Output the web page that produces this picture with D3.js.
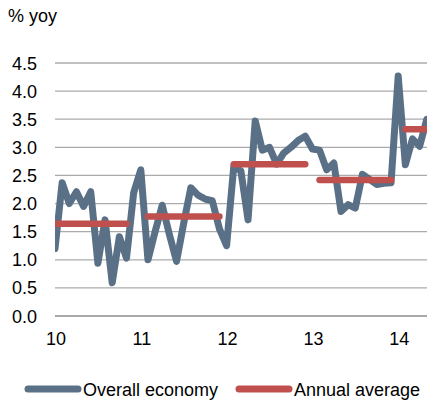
<!DOCTYPE html>
<html>
<head>
<meta charset="utf-8">
<script src="https://cdn.jsdelivr.net/npm/d3@7"></script>
<style>
  body { margin: 0; background: #fff; }
  svg { display: block; font-family: "Liberation Sans", Arial, sans-serif; }
</style>
</head>
<body>
<div id="chart"></div>
<script>
// monthly % yoy, Jan 2010 onwards
const overall = [1.2, 2.37, 2.0, 2.21, 1.95, 2.21, 0.94, 1.71, 0.59, 1.41, 1.03, 2.19,
  2.6, 1.0, 1.5, 1.97, 1.45, 0.97, 1.65, 2.28, 2.15, 2.08, 2.05, 1.55,
  1.25, 2.66, 2.58, 1.71, 3.47, 2.95, 3.0, 2.7, 2.9, 3.0, 3.12, 3.2,
  2.97, 2.95, 2.6, 2.72, 1.86, 1.98, 1.92, 2.52, 2.43, 2.34, 2.36, 2.37,
  4.27, 2.69, 3.15, 3.02, 3.5];
// annual averages with first / last month index of each segment
const avgValues = [1.64, 1.77, 2.70, 2.42, 3.32];
const avgStart = [0, 13, 25, 37, 49];
const avgEnd = [10, 23, 35, 47, 54];
const yearLabels = ["10", "11", "12", "13", "14"];
const yTicks = [0, 0.5, 1, 1.5, 2, 2.5, 3, 3.5, 4, 4.5];

const width = 427, height = 401;
const blue = "#5a7087", red = "#c0504d";

const svg = d3.select("#chart").append("svg")
    .attr("width", width)
    .attr("height", height);

const x = d3.scaleLinear().domain([0, 52]).range([55, 55 + 52 * 7.15]);
const y = d3.scaleLinear().domain([0, 4.5]).range([316, 63]);

svg.append("defs").append("clipPath").attr("id", "plot")
    .append("rect").attr("x", 55).attr("y", 40).attr("width", width - 55).attr("height", 290);

// title
svg.append("text")
    .attr("x", 8).attr("y", 22)
    .attr("font-size", 18).attr("fill", "#000")
    .text("% yoy");

// gridlines + y labels
const yAxis = svg.append("g");
yAxis.selectAll("line").data(yTicks).enter().append("line")
    .attr("x1", 55).attr("x2", width)
    .attr("y1", d => y(d)).attr("y2", d => y(d))
    .attr("stroke", d => d === 0 ? "#8c8c8c" : "#ababab")
    .attr("stroke-width", 1.3);
yAxis.selectAll("text").data(yTicks).enter().append("text")
    .attr("x", 37).attr("y", d => y(d) + 6.5)
    .attr("text-anchor", "end")
    .attr("font-size", 18).attr("fill", "#000")
    .text(d => d3.format(".1f")(d));

// x labels
svg.append("g").selectAll("text").data(yearLabels).enter().append("text")
    .attr("x", (d, i) => x(i * 12) + 1)
    .attr("y", 345)
    .attr("text-anchor", "middle")
    .attr("font-size", 18).attr("fill", "#000")
    .text(d => d);

const plot = svg.append("g").attr("clip-path", "url(#plot)");

const line = d3.line()
    .x((d, i) => x(i))
    .y(d => y(d));

plot.append("path")
    .datum(overall)
    .attr("d", line)
    .attr("fill", "none")
    .attr("stroke", blue)
    .attr("stroke-width", 7)
    .attr("stroke-linejoin", "round")
    .attr("stroke-linecap", "round");

plot.selectAll("line.avg").data(avgValues).enter().append("line")
    .attr("class", "avg")
    .attr("x1", (d, i) => x(avgStart[i]))
    .attr("x2", (d, i) => x(avgEnd[i]))
    .attr("y1", d => y(d)).attr("y2", d => y(d))
    .attr("stroke", red)
    .attr("stroke-width", 6.5)
    .attr("stroke-linecap", "round");

// legend
const legend = [
  { name: "Overall economy", color: blue, x: 28 },
  { name: "Annual average", color: red, x: 239 }
];
const lg = svg.append("g").selectAll("g").data(legend).enter().append("g");
lg.append("line")
    .attr("x1", d => d.x).attr("x2", d => d.x + 50)
    .attr("y1", 389).attr("y2", 389)
    .attr("stroke", d => d.color)
    .attr("stroke-width", 7)
    .attr("stroke-linecap", "round");
lg.append("text")
    .attr("x", d => d.x + 55).attr("y", 396)
    .attr("font-size", 18).attr("fill", "#000")
    .text(d => d.name);
</script>
</body>
</html>
